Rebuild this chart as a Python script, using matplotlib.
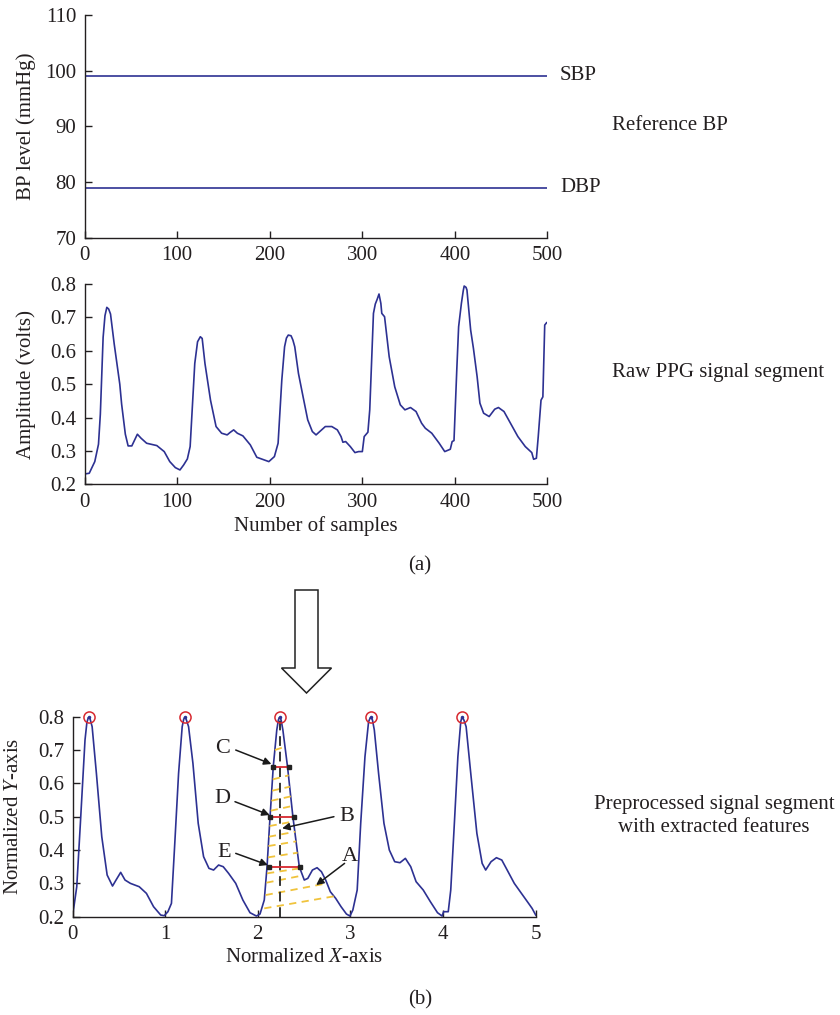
import matplotlib
matplotlib.use("Agg")
import matplotlib.pyplot as plt
from matplotlib.patches import Polygon

plt.rcParams['font.family'] = ['Liberation Serif', 'DejaVu Serif']
plt.rcParams['mathtext.fontset'] = 'custom'
plt.rcParams['mathtext.rm'] = 'Liberation Serif'
plt.rcParams['mathtext.it'] = 'Liberation Serif:italic'
plt.rcParams['font.size'] = 15

TXT = '#231f20'
BLUE = '#2d3192'
FS = 15

# reference BP
bp_x = [0, 500]
sbp = [99, 99]
dbp = [79, 79]

# raw PPG segment (samples, volts)
raw_s = [0, 5, 11, 15, 17, 20, 22, 24, 26, 28, 32, 38, 40, 44, 47, 51, 57, 61, 67, 78, 86, 92,
         98, 103, 107, 111, 114, 119, 122, 125, 127, 130, 136, 142, 148, 154, 157, 161,
         165, 171, 179, 186, 194, 199, 205, 209, 213, 216, 218, 220, 223, 225, 227, 231, 236, 241,
         246, 250, 254, 260, 267, 273, 277, 279, 282, 287, 292, 296, 300, 302, 306, 308,
         312, 314, 316, 318, 320, 321, 324, 329, 335, 341, 346, 352, 358, 364, 368, 375, 383,
         389, 395, 397, 399, 402, 404, 407, 409, 410, 412, 413, 417, 420, 424, 427, 431, 437, 443,
         447, 453, 460, 468, 476, 483, 485, 488, 490, 493, 495, 497, 499]
raw_v = [0.231, 0.233, 0.268, 0.32, 0.41, 0.64, 0.705, 0.73, 0.725, 0.71, 0.62, 0.50, 0.44, 0.35,
         0.315, 0.315, 0.35, 0.338, 0.323, 0.316, 0.298, 0.268, 0.25, 0.243, 0.258, 0.276, 0.313,
         0.562, 0.627, 0.642, 0.637, 0.562, 0.452, 0.373, 0.353, 0.348, 0.355, 0.363, 0.353,
         0.345, 0.318, 0.281, 0.273, 0.268, 0.283, 0.323, 0.512, 0.612, 0.638, 0.647, 0.645,
         0.632, 0.612, 0.532, 0.462, 0.393, 0.358, 0.348, 0.358, 0.373, 0.373, 0.363, 0.343,
         0.326, 0.328, 0.313, 0.295, 0.298, 0.298, 0.343, 0.356, 0.423, 0.712, 0.74, 0.754,
         0.77, 0.742, 0.712, 0.702, 0.582, 0.492, 0.438, 0.423, 0.43, 0.418, 0.383, 0.368,
         0.353, 0.323, 0.298, 0.305, 0.328, 0.331, 0.542, 0.672, 0.742, 0.78, 0.794, 0.79,
         0.782, 0.662, 0.607, 0.522, 0.443, 0.413, 0.403, 0.425, 0.43, 0.418, 0.383, 0.343,
         0.313, 0.295, 0.275, 0.278, 0.343, 0.452, 0.462, 0.677, 0.684]

# preprocessed segment (normalized)
pre_x = [0.0, 0.046, 0.085, 0.135, 0.155, 0.173, 0.19, 0.212, 0.258, 0.316, 0.374, 0.432,
         0.47, 0.52, 0.567, 0.625, 0.72, 0.798, 0.875, 0.952, 0.99, 1.03, 1.068, 1.106,
         1.145, 1.184, 1.2, 1.214, 1.23, 1.253, 1.3, 1.357, 1.415, 1.473, 1.523, 1.577,
         1.627, 1.685, 1.762, 1.839, 1.916, 1.985, 2.024, 2.07, 2.1, 2.128, 2.167, 2.205,
         2.222, 2.236, 2.252, 2.271, 2.321, 2.379, 2.448, 2.502, 2.54, 2.59, 2.64, 2.687,
         2.733, 2.783, 2.841, 2.899, 2.957, 2.995, 3.026, 3.073, 3.111, 3.157, 3.196, 3.219,
         3.238, 3.258, 3.304, 3.362, 3.42, 3.478, 3.535, 3.593, 3.651, 3.709, 3.786, 3.863,
         3.94, 3.99, 4.006, 4.056, 4.083, 4.122, 4.16, 4.191, 4.205, 4.225, 4.249, 4.299,
         4.365, 4.422, 4.46, 4.518, 4.576, 4.634, 4.692, 4.769, 4.846, 4.923, 4.961, 5.0]
pre_y = [0.2, 0.29, 0.48, 0.73, 0.782, 0.80, 0.793, 0.77, 0.63, 0.44, 0.325, 0.292,
         0.31, 0.333, 0.31, 0.30, 0.29, 0.27, 0.23, 0.205, 0.203, 0.215, 0.24, 0.43,
         0.63, 0.77, 0.792, 0.80, 0.79, 0.77, 0.66, 0.48, 0.38, 0.345, 0.34, 0.355,
         0.35, 0.33, 0.30, 0.25, 0.212, 0.202, 0.208, 0.25, 0.35, 0.48, 0.65, 0.76,
         0.79, 0.80, 0.79, 0.76, 0.65, 0.50, 0.35, 0.31, 0.315, 0.34, 0.347, 0.335,
         0.31, 0.275, 0.255, 0.23, 0.208, 0.202, 0.22, 0.28, 0.48, 0.68, 0.785, 0.80,
         0.79, 0.76, 0.63, 0.48, 0.40, 0.365, 0.362, 0.375, 0.35, 0.305, 0.28, 0.245,
         0.212, 0.202, 0.215, 0.215, 0.28, 0.48, 0.68, 0.785, 0.80, 0.79, 0.77, 0.63,
         0.45, 0.36, 0.34, 0.365, 0.377, 0.37, 0.34, 0.30, 0.27, 0.24, 0.225, 0.205]

peak_x = [0.173, 1.214, 2.236, 3.219, 4.205]
peak_y = [0.8, 0.8, 0.8, 0.8, 0.8]

# width features on the third pulse
width_y = [0.65, 0.50, 0.35]
width_x0 = [2.167, 2.136, 2.12]
width_x1 = [2.333, 2.39, 2.456]
axis_x = 2.236

# area hatching (yellow dashes)
hatch_x0 = [2.07, 2.085, 2.093, 2.10, 2.11, 2.115, 2.12, 2.128, 2.14, 2.147, 2.155, 2.162, 2.185]
hatch_x1 = [2.84, 2.745, 2.49, 2.45, 2.43, 2.415, 2.405, 2.39, 2.37, 2.358, 2.346, 2.333, 2.295]
hatch_y0 = [0.225, 0.265, 0.302, 0.330, 0.378, 0.412, 0.44, 0.472, 0.518, 0.548, 0.578, 0.612, 0.70]
hatch_y1 = [0.262, 0.300, 0.324, 0.345, 0.392, 0.426, 0.455, 0.486, 0.532, 0.561, 0.59, 0.624, 0.71]

# feature labels: text, label pos, arrow tail, arrow tip
feat_names = ['C', 'D', 'E', 'B', 'A']
feat_lx = [1.625, 1.615, 1.638, 2.96, 2.995]
feat_ly = [0.706, 0.555, 0.392, 0.502, 0.38]
feat_tx = [1.762, 1.754, 1.762, 2.822, 2.937]
feat_ty = [0.70, 0.545, 0.39, 0.50, 0.36]
feat_hx = [2.147, 2.128, 2.109, 2.263, 2.63]
feat_hy = [0.658, 0.505, 0.355, 0.465, 0.295]

W, H = 840, 1015
fig = plt.figure(figsize=(W / 100, H / 100), dpi=100)


def px_axes(left, top, right, bottom):
    return fig.add_axes([left / W, 1 - bottom / H, (right - left) / W, (bottom - top) / H])


def style(ax):
    for s in ['top', 'right']:
        ax.spines[s].set_visible(False)
    for s in ['left', 'bottom']:
        ax.spines[s].set_color(TXT)
        ax.spines[s].set_linewidth(1.0)
    ax.tick_params(direction='in', length=5, width=1, colors=TXT, labelsize=FS, pad=6)


ax1 = px_axes(84.6, 14.7, 547.5, 238)
ax1.plot(bp_x, sbp, color=BLUE, lw=1.2)
ax1.plot(bp_x, dbp, color=BLUE, lw=1.2)
ax1.set_xlim(0, 500)
ax1.set_ylim(70, 110)
ax1.set_xticks(range(0, 501, 100))
ax1.set_yticks(range(70, 111, 10))
ax1.set_ylabel('BP level (mmHg)', color=TXT, fontsize=FS)
ax1.yaxis.set_label_coords(-0.104, 0.5)
style(ax1)

ax2 = px_axes(84.6, 284, 547.5, 484.3)
ax2.plot(raw_s, raw_v, color=BLUE, lw=1.2)
ax2.set_xlim(0, 500)
ax2.set_ylim(0.2, 0.8)
ax2.set_xticks(range(0, 501, 100))
ax2.set_yticks([0.2, 0.3, 0.4, 0.5, 0.6, 0.7, 0.8])
ax2.set_yticklabels(['0.2', '0.3', '0.4', '0.5', '0.6', '0.7', '0.8'])
ax2.set_ylabel('Amplitude (volts)', color=TXT, fontsize=FS)
ax2.set_xlabel('Number of samples', color=TXT, fontsize=FS, labelpad=3)
ax2.yaxis.set_label_coords(-0.104, 0.5)
style(ax2)

ax3 = px_axes(72.5, 716.7, 535.7, 916.7)
ax3.plot(pre_x, pre_y, color=BLUE, lw=1.2)
for i in range(len(hatch_x0)):
    ax3.plot([hatch_x0[i], hatch_x1[i]], [hatch_y0[i], hatch_y1[i]],
             color='#f0c33c', lw=1.3, dashes=(4, 3))
ax3.plot([axis_x, axis_x], [0.2, 0.8], color='#333333', lw=1.4, dashes=(5, 3))
for i in range(len(width_y)):
    ax3.plot([width_x0[i], width_x1[i]], [width_y[i], width_y[i]], color='#d7282f', lw=1.3)
    ax3.plot([width_x0[i], width_x1[i]], [width_y[i], width_y[i]], ls='none',
             marker='s', ms=3, color='#222222')
ax3.plot(peak_x, peak_y, ls='none', marker='o', ms=8, mfc='none', mec='#d7282f',
         mew=1.1, clip_on=False)
ax3.plot(peak_x, peak_y, ls='none', marker='.', ms=3, color=BLUE, clip_on=False)
for i in range(len(feat_names)):
    ax3.annotate('', xy=(feat_hx[i], feat_hy[i]), xytext=(feat_tx[i], feat_ty[i]),
                 arrowprops=dict(arrowstyle='-|>', color='#1a1a1a', lw=1.1,
                                 mutation_scale=11, shrinkA=0, shrinkB=0))
    ax3.text(feat_lx[i], feat_ly[i], feat_names[i], fontsize=16, color=TXT,
             ha='center', va='center')
ax3.set_xlim(0, 5)
ax3.set_ylim(0.2, 0.8)
ax3.set_xticks([0, 1, 2, 3, 4, 5])
ax3.set_yticks([0.2, 0.3, 0.4, 0.5, 0.6, 0.7, 0.8])
ax3.set_yticklabels(['0.2', '0.3', '0.4', '0.5', '0.6', '0.7', '0.8'])
ax3.set_ylabel('Normalized $\\mathit{Y}$-axis', color=TXT, fontsize=FS)
ax3.set_xlabel('Normalized $\\mathit{X}$-axis', color=TXT, fontsize=FS, labelpad=3)
ax3.yaxis.set_label_coords(-0.107, 0.5)
style(ax3)


def ftext(x, y, s, **kw):
    fig.text(x / W, 1 - y / H, s, color=TXT, fontsize=FS, va='center', **kw)


ftext(560, 75, 'SBP')
ftext(560, 187, 'DBP')
ftext(612, 125, 'Reference BP')
ftext(612, 372, 'Raw PPG signal segment')
ftext(714, 816, 'Preprocessed signal segment\nwith extracted features', ha='center',
      linespacing=1.35)
ftext(420, 566, '(a)', ha='center')
ftext(420, 1000, '(b)', ha='center')

# big outline arrow between the panels
cx, top_y, shoulder_y, tip_y = 306.5, 590, 668, 693
shaft, head = 11.5, 25
pts = [(cx - shaft, top_y), (cx + shaft, top_y), (cx + shaft, shoulder_y),
       (cx + head, shoulder_y), (cx, tip_y), (cx - head, shoulder_y),
       (cx - shaft, shoulder_y)]
pts = [(x / W, 1 - y / H) for x, y in pts]
fig.patches.append(Polygon(pts, closed=True, fill=False, ec='#222222', lw=1.1,
                           transform=fig.transFigure))

fig.savefig('out.png', dpi=100)
